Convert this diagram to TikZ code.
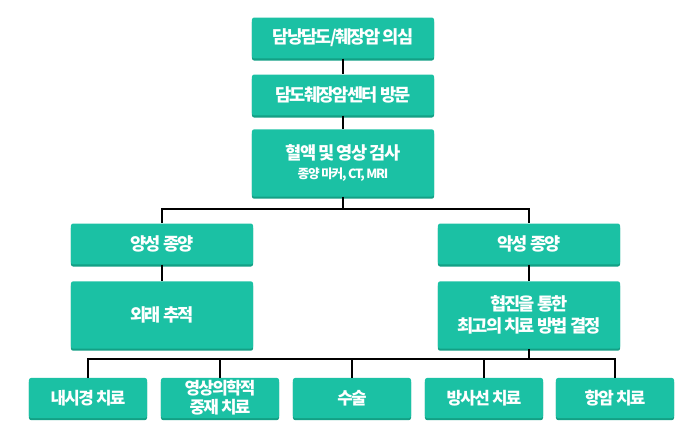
\documentclass[tikz,border=0pt]{standalone}
\usepackage{fontspec}
\setmainfont{Noto Sans CJK KR}[LetterSpace=-10]
\usetikzlibrary{shadows}
\definecolor{boxteal}{HTML}{1BC1A4}
\definecolor{boxshade}{HTML}{13A085}

\begin{document}
\begin{tikzpicture}[x=0.025cm, y=-0.025cm,
  box/.style={fill=boxteal, rounded corners=1.5pt, text=white, align=center, inner sep=0pt,
    font=\bfseries\fontsize{12.5}{15.5}\selectfont,
    drop shadow={shadow xshift=0pt, shadow yshift=-1.5pt, fill=boxshade, opacity=1}},
  wide/.style={box, minimum width=4.55cm, minimum height=1.02cm},
  tall/.style={box, minimum width=4.55cm, minimum height=1.68cm},
  small/.style={box, minimum width=2.95cm, minimum height=1.0cm, font=\bfseries\fontsize{12}{13.5}\selectfont},
  link/.style={line width=1.6pt}]
  \useasboundingbox (0,0) rectangle (700,445);
  \node[wide] (suspect) at (343,38) {담낭담도/췌장암 의심};
  \node[wide] (visit) at (343,95) {담도췌장암센터 방문};
  \node[tall] (test) at (343,163) {혈액 및 영상 검사\\[-1.5pt]{\fontsize{9}{9}\selectfont 종양 마커, CT, MRI}};
  \node[wide] (benign) at (162,244) {양성 종양};
  \node[tall] (follow) at (162,315) {외래 추적};
  \node[wide] (malig) at (529,244) {악성 종양};
  \node[tall] (decide) at (529,315) {협진을 통한\\최고의 치료 방법 결정};
  \node[small] (endo) at (88,398) {내시경 치료};
  \node[small] (interv) at (220,398) {영상의학적\\중재 치료};
  \node[small] (surg) at (352,398) {수술};
  \node[small] (radio) at (484,398) {방사선 치료};
  \node[small] (chemo) at (615,398) {항암 치료};
  \coordinate (fork-top) at (343,209);
  \coordinate (fork-bottom) at (529,359);
  \draw[link] (suspect) -- (visit);
  \draw[link] (visit) -- (test);
  \draw[link] (test) -- (fork-top);
  \draw[link] (fork-top) -| (benign);
  \draw[link] (fork-top) -| (malig);
  \draw[link] (benign) -- (follow);
  \draw[link] (malig) -- (decide);
  \draw[link] (decide) -- (fork-bottom);
  \foreach \t in {endo,interv,surg,radio,chemo}
    \draw[link] (fork-bottom) -| (\t);
\end{tikzpicture}
\end{document}
